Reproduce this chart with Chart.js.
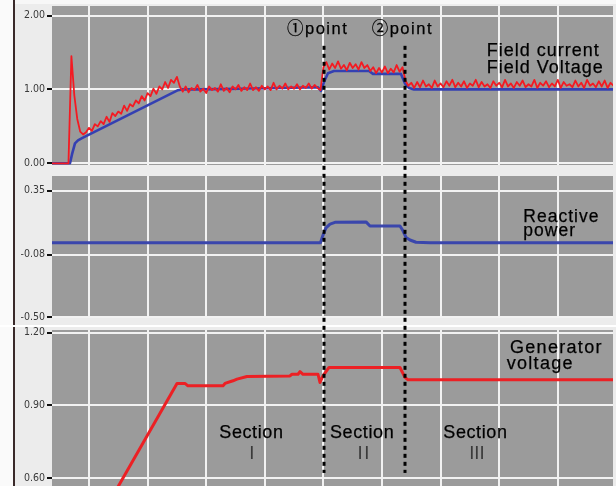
<!DOCTYPE html>
<html>
<head>
<meta charset="utf-8">
<script src="https://cdn.jsdelivr.net/npm/chart.js@4.4.1/dist/chart.umd.min.js"></script>
<style>
  html, body { margin: 0; padding: 0; }
  body {
    width: 616px; height: 486px; position: relative; overflow: hidden;
    background: #ececec;
    font-family: "Liberation Sans", Arial, "Noto Sans CJK KR", sans-serif;
  }
  #edge {
    position: absolute; left: 0; top: 0; width: 13px; height: 486px;
    background: #fafafa; border-right: 2px solid #3a2a2a;
  }
  #topband { position: absolute; left: 15px; top: 0; width: 601px; height: 4px; background: #f7f7f7; }
  #sep { position: absolute; left: 0; top: 325px; width: 616px; height: 2px; background: #ffffff; }
  canvas { position: absolute; left: 0; top: 0; }
  .note {
    position: absolute; color: #000; font-size: 18px; line-height: 20px;
    letter-spacing: 1px; white-space: nowrap; -webkit-text-stroke: 0.25px #000;
    font-family: "Liberation Sans", Arial, "Noto Sans CJK KR", sans-serif;
  }
  .mark { font-size: 16.5px; letter-spacing: 1.5px; }
  .roman { color: #3a3a3a; -webkit-text-stroke: 0; font-size: 18.5px; letter-spacing: 1px; }
</style>
</head>
<body>
<div id="edge"></div>
<div id="topband"></div>
<div id="sep"></div>
<canvas id="panelField" width="616" height="486"></canvas>
<canvas id="panelReactive" width="616" height="486"></canvas>
<canvas id="panelGenerator" width="616" height="486"></canvas>

<div class="note mark" style="left:287px; top:17.6px;">①point</div>
<div class="note mark" style="left:371.7px; top:17.6px;">②point</div>
<div class="note" style="left:486.7px; top:39.8px;">Field current</div>
<div class="note" style="left:486.7px; top:56.5px;">Field Voltage</div>
<div class="note" style="left:523.3px; top:205.6px; font-size:17.5px;">Reactive</div>
<div class="note" style="left:523.3px; top:219.9px; font-size:17.5px;">power</div>
<div class="note" style="left:510px; top:337px; letter-spacing:1.3px;">Generator</div>
<div class="note" style="left:506.7px; top:353px; letter-spacing:1.3px;">voltage</div>
<div class="note" style="left:219.3px; top:422px; letter-spacing:0.6px;">Section</div>
<div class="note" style="left:330px; top:422px; letter-spacing:0.6px;">Section</div>
<div class="note" style="left:443.3px; top:422px; letter-spacing:0.6px;">Section</div>
<div class="note roman" style="left:249.2px; top:442.9px;">I</div>
<div class="note roman" style="left:357.5px; top:442.9px; letter-spacing:1.7px;">II</div>
<div class="note roman" style="left:469.2px; top:442.9px; letter-spacing:0px;">III</div>

<script>
// ---- time axis (recorder divisions) ----
const timeMin = 0.369;
const timeMax = 9.942;
const timeGrid = [1, 2, 3, 4, 5, 6, 7, 8, 9];

// ---- field current: sampled recorder trace ----
const fieldCurrentStart = 0.35;
const fieldCurrentStep = 0.05;
const fieldCurrent = [
  0, 0, 0, 0, 0, 0, 0, 1.45, 0.92, 0.60,
  0.43, 0.39, 0.42, 0.48, 0.44, 0.53, 0.50, 0.57, 0.53, 0.63,
  0.56, 0.68, 0.64, 0.70, 0.67, 0.78, 0.71, 0.80, 0.77, 0.85,
  0.81, 0.91, 0.85, 0.95, 0.91, 1.01, 0.94, 1.04, 1.00, 1.10,
  1.02, 1.13, 1.09, 1.17, 1.04, 0.97, 1.04, 0.96, 1.02, 0.99,
  1.06, 0.97, 1.01, 0.95, 1.04, 0.99, 1.02, 0.97, 1.07, 0.98,
  1.02, 0.96, 1.04, 1.00, 1.06, 0.98, 1.03, 0.99, 1.08, 0.99,
  1.03, 0.98, 1.05, 1.00, 1.04, 0.99, 1.09, 1.00, 1.05, 1.01,
  1.08, 1.00, 1.04, 1.01, 1.07, 1.00, 1.05, 1.02, 1.08, 1.01,
  1.06, 1.02, 0.99, 1.30, 1.37, 1.27, 1.35, 1.29, 1.38, 1.28,
  1.33, 1.26, 1.36, 1.29, 1.34, 1.27, 1.37, 1.29, 1.33, 1.25,
  1.30, 1.22, 1.29, 1.23, 1.31, 1.22, 1.28, 1.23, 1.33, 1.24,
  1.30, 1.12, 1.05, 1.09, 1.02, 1.10, 1.03, 1.12, 1.04, 1.07,
  1.02, 1.12, 1.04, 1.08, 1.03, 1.11, 1.05, 1.13, 1.03, 1.09,
  1.04, 1.11, 1.02, 1.08, 1.05, 1.13, 1.03, 1.10, 1.04, 1.07,
  1.02, 1.11, 1.05, 1.09, 1.03, 1.13, 1.04, 1.08, 1.02, 1.10,
  1.05, 1.12, 1.03, 1.07, 1.04, 1.13, 1.02, 1.09, 1.05, 1.11,
  1.03, 1.08, 1.04, 1.13, 1.02, 1.10, 1.05, 1.07, 1.03, 1.12,
  1.04, 1.09, 1.02, 1.13, 1.05, 1.08, 1.03, 1.11, 1.04, 1.12,
  1.02, 1.09, 1.05
];

// ---- field voltage ----
const fieldVoltageT = [0.35, 0.676, 0.71, 0.761, 0.812, 0.881, 2.519, 2.587, 2.894, 3.577, 4.259, 4.908,
  4.959, 5.010, 5.078, 5.181, 5.778, 5.846, 6.324, 6.392, 6.461, 6.546, 9.95];
const fieldVoltage = [0, 0, 0.12, 0.27, 0.31, 0.34, 0.99, 1.00, 1.00, 1.01, 1.02, 1.03,
  0.98, 1.10, 1.22, 1.25, 1.25, 1.21, 1.21, 1.08, 1.02, 1.00, 1.00];

// ---- reactive power ----
const reactivePowerT = [0.35, 4.950, 4.993, 5.044, 5.113, 5.198, 5.727, 5.795, 6.307, 6.358, 6.410, 6.478, 6.580, 6.819, 9.95];
const reactivePower = [0.00, 0.00, 0.05, 0.10, 0.125, 0.137, 0.14, 0.112, 0.112, 0.08, 0.035, 0.018, 0.003, 0.0, 0.0];

// ---- generator voltage ----
const generatorVoltageT = [1.324, 2.502, 2.638, 2.689, 3.287, 3.321, 3.457, 3.526, 3.696, 4.430, 4.464,
  4.567, 4.601, 4.652, 4.908, 4.942, 4.993, 5.096, 6.307, 6.392, 6.444, 9.95];
const generatorVoltage = [0.49, 0.99, 0.99, 0.98, 0.98, 0.99, 1.001, 1.008, 1.019, 1.021, 1.028,
  1.028, 1.039, 1.028, 1.028, 0.994, 1.021, 1.056, 1.056, 1.015, 1.005, 1.005];

// ---- y-axis ranges and tick labels ----
const fieldRange = [-0.023, 2.129];
const fieldTicks = [0.00, 1.00, 2.00];
const reactiveRange = [-0.507, 0.449];
const reactiveTicks = [-0.50, -0.08, 0.35];
const generatorRange = [0.566, 1.211];
const generatorTicks = [0.60, 0.90, 1.20];

// ---- event markers (①point, ②point) ----
const eventTimes = [5.01, 6.392];
const eventTopField = 1.59;      // upper end, field-panel units
const eventBottomGen = 0.62;     // lower end, generator-panel units

const pairs = (xs, ys) => ys.map((v, i) => ({ x: xs[i], y: v }));
const sampled = (start, step, ys) => ys.map((v, i) => ({ x: start + i * step, y: v }));

const plotBackground = {
  id: 'plotBackground',
  beforeDraw(chart) {
    const { ctx, chartArea: a } = chart;
    ctx.save();
    ctx.fillStyle = '#9b9b9b';
    ctx.fillRect(a.left, a.top, a.right - a.left, a.bottom - a.top);
    ctx.restore();
  }
};

const charts = {};

const eventMarkers = {
  id: 'eventMarkers',
  afterDraw(chart) {
    const ctx = chart.ctx;
    const top = charts.field.scales.y.getPixelForValue(eventTopField);
    const bottom = chart.scales.y.getPixelForValue(eventBottomGen);
    ctx.save();
    ctx.strokeStyle = '#000';
    ctx.lineWidth = 3;
    ctx.setLineDash([4, 4]);
    eventTimes.forEach(t => {
      const x = Math.round(chart.scales.x.getPixelForValue(t));
      ctx.beginPath();
      ctx.moveTo(x, top);
      ctx.lineTo(x, bottom);
      ctx.stroke();
    });
    ctx.restore();
  }
};

function panelOptions(padTop, padBottom, range, ticks) {
  return {
    responsive: false,
    animation: false,
    devicePixelRatio: 1,
    layout: { padding: { top: padTop, bottom: padBottom, left: 0, right: 3 } },
    plugins: { legend: { display: false }, tooltip: { enabled: false } },
    elements: { point: { radius: 0 }, line: { tension: 0, borderJoinStyle: 'round' } },
    scales: {
      x: {
        type: 'linear', min: timeMin, max: timeMax,
        border: { display: false },
        grid: { color: '#f2f2f2', lineWidth: 2, drawTicks: false },
        ticks: { display: false },
        afterBuildTicks: s => { s.ticks = timeGrid.map(v => ({ value: v })); },
        afterFit: s => { s.height = 0; s.paddingLeft = 0; s.paddingRight = 0; }
      },
      y: {
        type: 'linear', min: range[0], max: range[1],
        border: { display: false },
        grid: { color: '#f2f2f2', lineWidth: 2, tickColor: '#111', tickLength: 5, tickWidth: 2 },
        ticks: {
          autoSkip: false, padding: 2, color: '#3a3a3a',
          font: { family: '"Liberation Sans Narrow", "DejaVu Sans Condensed", sans-serif', size: 10.5 },
          callback: v => Number(v).toFixed(2)
        },
        afterBuildTicks: s => { s.ticks = ticks.map(v => ({ value: v })); },
        afterFit: s => { s.width = 52; s.paddingTop = 0; s.paddingBottom = 0; }
      }
    }
  };
}

charts.field = new Chart(document.getElementById('panelField'), {
  type: 'line',
  data: {
    datasets: [
      { label: 'Field current', data: sampled(fieldCurrentStart, fieldCurrentStep, fieldCurrent),
        borderColor: 'rgb(244,26,34)', borderWidth: 1.8 },
      { label: 'Field Voltage', data: pairs(fieldVoltageT, fieldVoltage),
        borderColor: 'rgb(52,64,178)', borderWidth: 2.6 }
    ]
  },
  options: panelOptions(6, 321, fieldRange, fieldTicks),
  plugins: [plotBackground]
});

charts.reactive = new Chart(document.getElementById('panelReactive'), {
  type: 'line',
  data: {
    datasets: [
      { label: 'Reactive power', data: pairs(reactivePowerT, reactivePower),
        borderColor: 'rgb(58,70,172)', borderWidth: 3 }
    ]
  },
  options: panelOptions(176, 168, reactiveRange, reactiveTicks),
  plugins: [plotBackground]
});

charts.generator = new Chart(document.getElementById('panelGenerator'), {
  type: 'line',
  data: {
    datasets: [
      { label: 'Generator voltage', data: pairs(generatorVoltageT, generatorVoltage),
        borderColor: 'rgb(236,32,36)', borderWidth: 3 }
    ]
  },
  options: panelOptions(330, 0, generatorRange, generatorTicks),
  plugins: [plotBackground, eventMarkers]
});
</script>
</body>
</html>
